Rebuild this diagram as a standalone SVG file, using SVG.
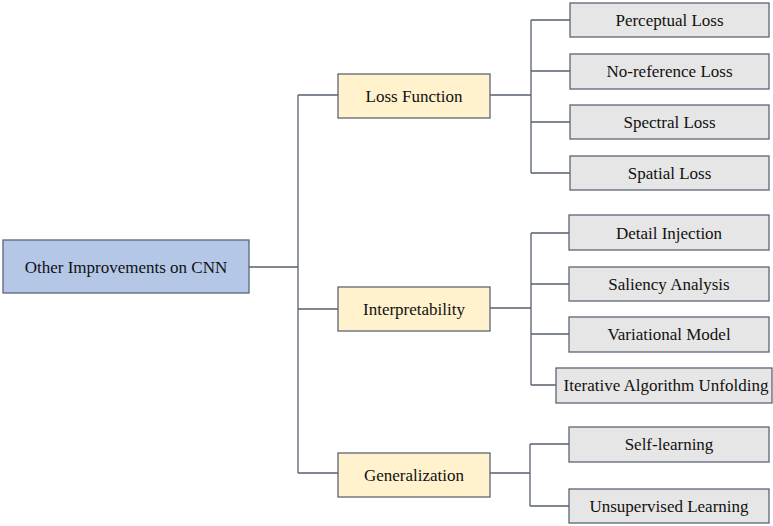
<svg xmlns="http://www.w3.org/2000/svg" width="773" height="526" viewBox="0 0 773 526">
<style>
.n rect{stroke:#5b6675;stroke-width:1.3}
.root rect{fill:#b4c7e7}
.mid rect{fill:#fff2cc}
.leaf rect{fill:#e6e6e6}
text{font-family:"Liberation Serif","Times New Roman",serif;font-size:17px;fill:#111;text-anchor:middle;dominant-baseline:central}
#edges path{fill:none;stroke:#56606e;stroke-width:1.3}
</style>
<rect width="773" height="526" fill="#fff"/>
<g id="edges">
<path d="M249 267 H298 M298 95 V473 M298 95 H338 M298 309 H338 M298 473 H338"/>
<path d="M490 95 H531 M531 20 V173 M531 20 H570 M531 71 H570 M531 122 H570 M531 173 H570"/>
<path d="M490 308 H531 M531 233 V385 M531 233 H569 M531 284 H569 M531 334 H569 M531 385 H556"/>
<path d="M490 473 H530 M530 444 V506 M530 444 H569 M530 506 H569"/>
</g>
<g id="root" class="n root"><rect x="3" y="240" width="246" height="53"/><text x="126" y="267">Other Improvements on CNN</text></g>
<g id="loss" class="n mid"><rect x="338" y="74" width="152" height="44"/><text x="414" y="96">Loss Function</text></g>
<g id="interp" class="n mid"><rect x="338" y="287" width="152" height="44"/><text x="414" y="309">Interpretability</text></g>
<g id="gen" class="n mid"><rect x="338" y="453" width="152" height="44"/><text x="414" y="475">Generalization</text></g>
<g id="perceptual" class="n leaf"><rect x="570" y="3" width="199" height="34"/><text x="669.5" y="20">Perceptual Loss</text></g>
<g id="noref" class="n leaf"><rect x="570" y="54" width="199" height="35"/><text x="669.5" y="71">No-reference Loss</text></g>
<g id="spectral" class="n leaf"><rect x="570" y="105" width="199" height="34"/><text x="669.5" y="122">Spectral Loss</text></g>
<g id="spatial" class="n leaf"><rect x="570" y="156" width="199" height="34"/><text x="669.5" y="173">Spatial Loss</text></g>
<g id="detail" class="n leaf"><rect x="569" y="215" width="200" height="35"/><text x="669" y="233">Detail Injection</text></g>
<g id="saliency" class="n leaf"><rect x="569" y="267" width="200" height="34"/><text x="669" y="284">Saliency Analysis</text></g>
<g id="variational" class="n leaf"><rect x="569" y="317" width="200" height="35"/><text x="669" y="334">Variational Model</text></g>
<g id="iterative" class="n leaf"><rect x="556" y="368" width="216" height="35"/><text x="666" y="385">Iterative Algorithm Unfolding</text></g>
<g id="self" class="n leaf"><rect x="569" y="427" width="200" height="35"/><text x="669" y="444">Self-learning</text></g>
<g id="unsup" class="n leaf"><rect x="569" y="489" width="200" height="34"/><text x="669" y="506">Unsupervised Learning</text></g>
</svg>
